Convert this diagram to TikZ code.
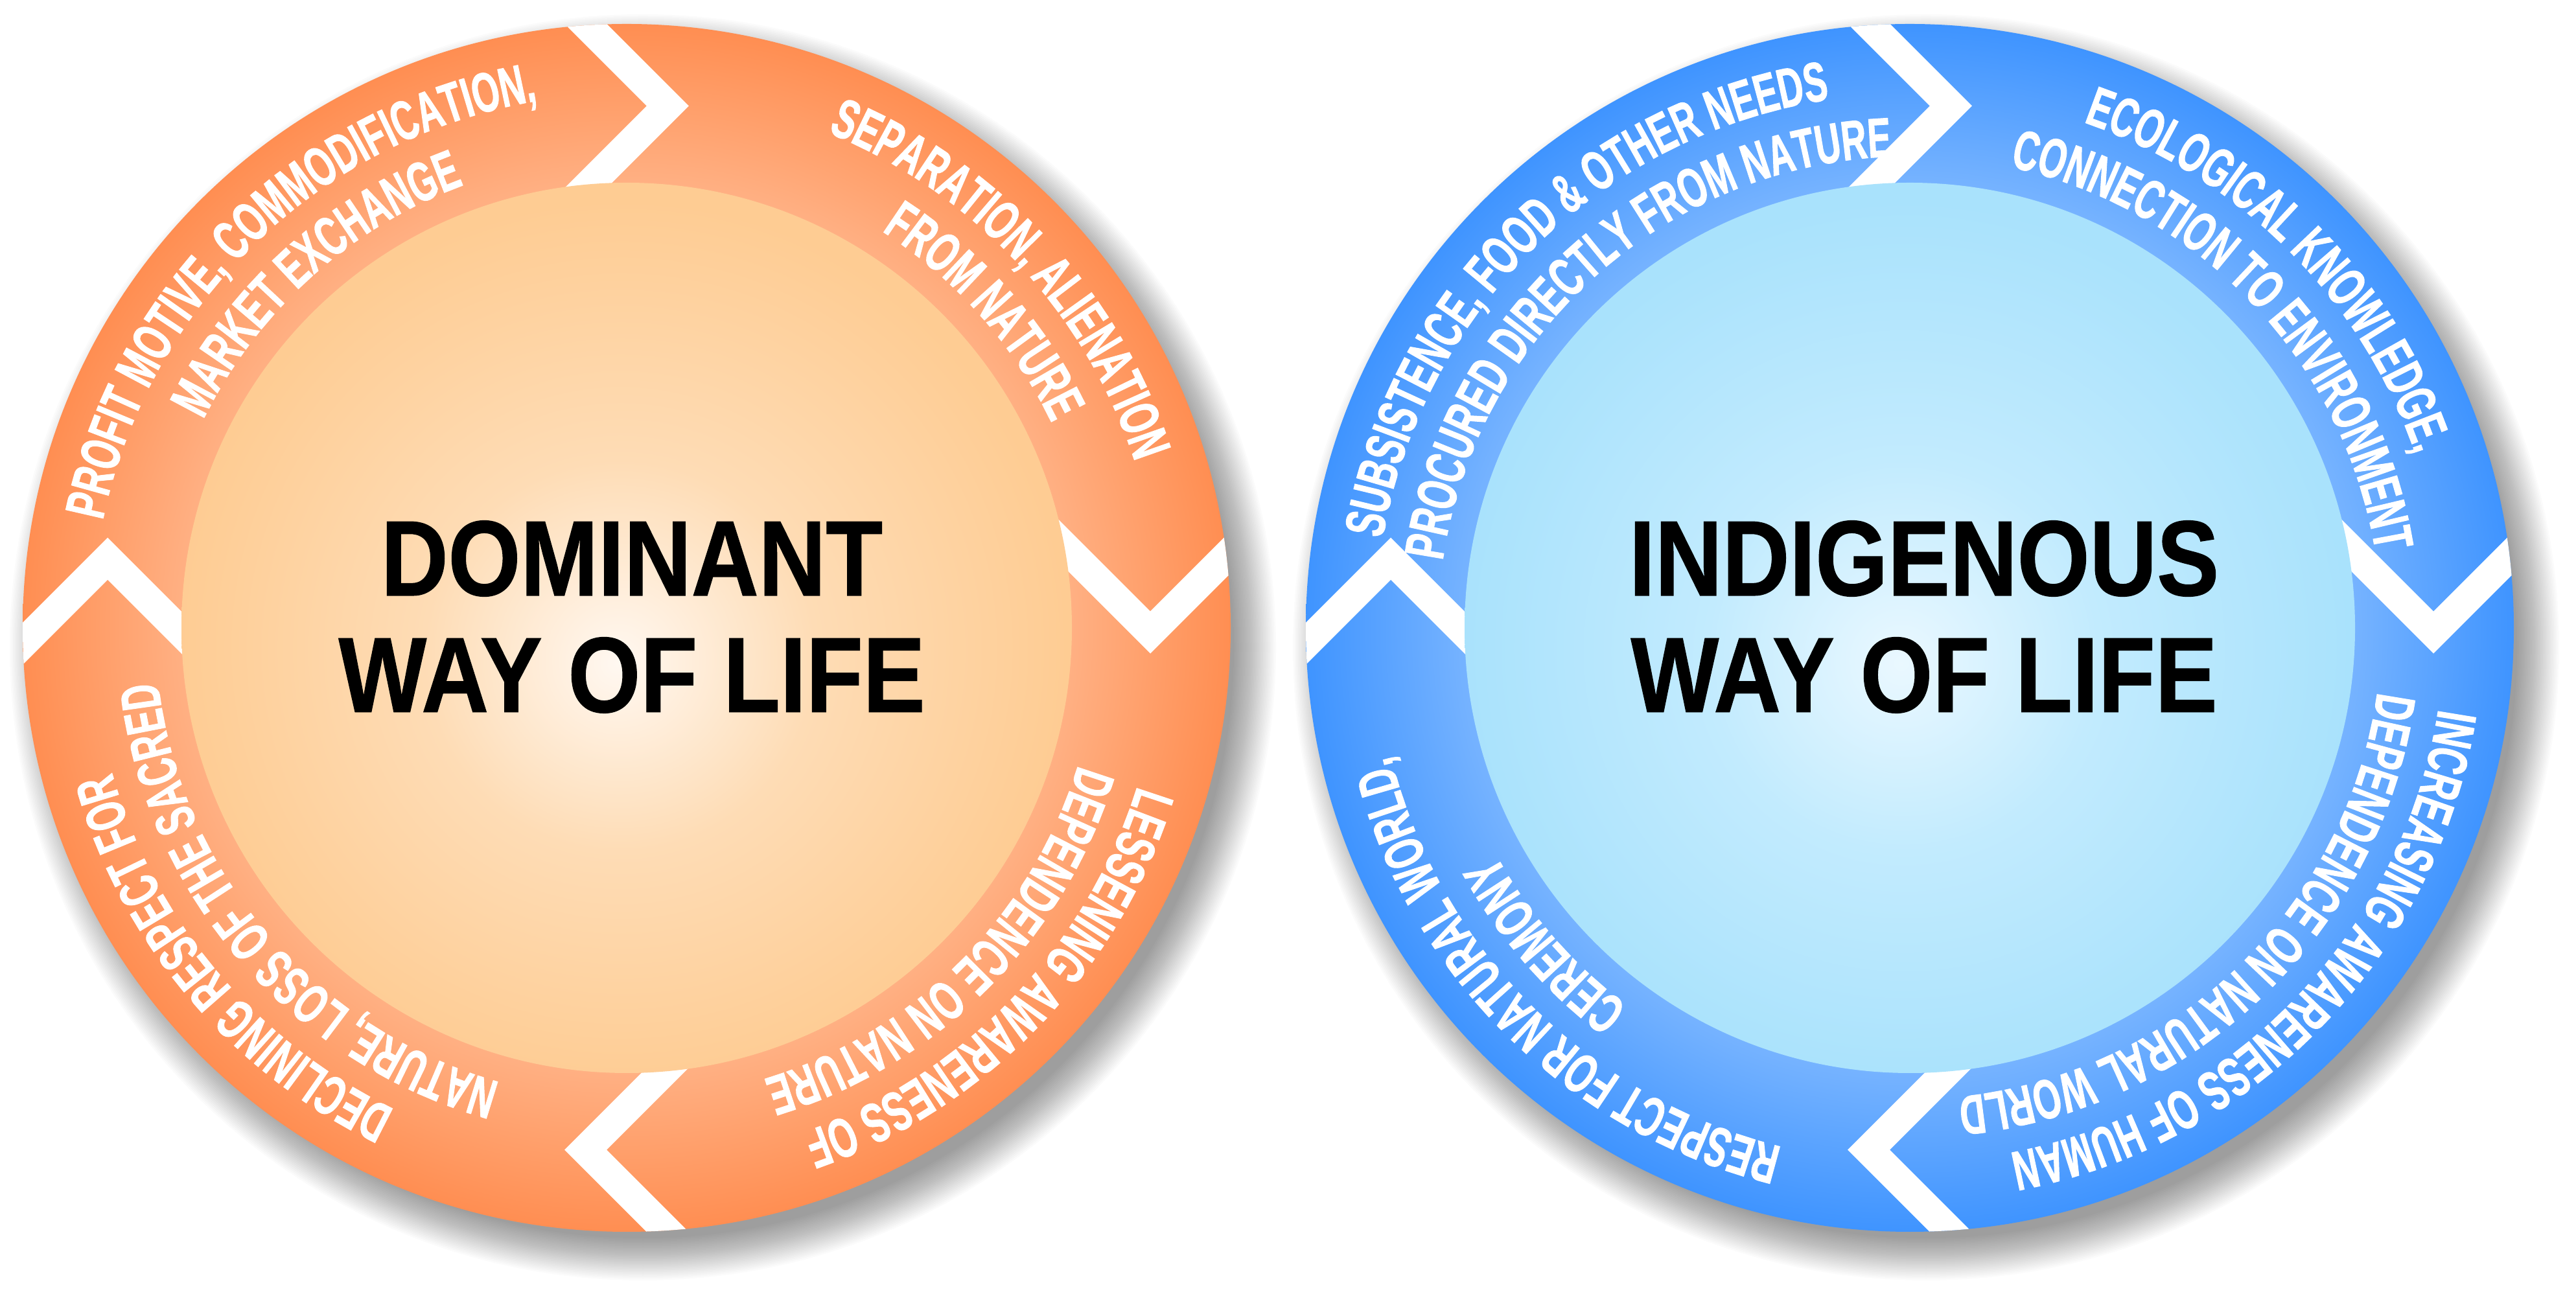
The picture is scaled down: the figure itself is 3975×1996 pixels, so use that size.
\documentclass[tikz,border=0pt]{standalone}
\usepackage{fontspec}
\usepackage{tikz}
\usetikzlibrary{calc,decorations.text}
\newfontfamily\ringfam[FakeStretch=0.63,FakeBold=1.2]{Liberation Sans}
\newfontfamily\headfam[FakeStretch=0.87,FakeBold=0.8]{Liberation Sans}
\newcommand\ringfont{\ringfam\bfseries\fontsize{24.5}{28}\selectfont}
\definecolor{orangeout}{HTML}{FF8E52}
\definecolor{orangein}{HTML}{FFB083}
\definecolor{peachedge}{HTML}{FECC93}
\definecolor{peachmid}{HTML}{FEDCB5}
\definecolor{peachcore}{HTML}{FFF8F1}
\definecolor{blueout}{HTML}{3F94FF}
\definecolor{bluein}{HTML}{76B3FF}
\definecolor{skyedge}{HTML}{A9E2FC}
\definecolor{skymid}{HTML}{C2EBFE}
\definecolor{skycore}{HTML}{EAF8FF}
% the path's box is mapped to radius 25bp of a radial shading
\pgfdeclareradialshading{orangering}{\pgfpoint{0bp}{0bp}}{color(0bp)=(orangein); color(18.4bp)=(orangein); color(25bp)=(orangeout); color(50bp)=(orangeout)}
\pgfdeclareradialshading{bluering}{\pgfpoint{0bp}{0bp}}{color(0bp)=(bluein); color(18.4bp)=(bluein); color(25bp)=(blueout); color(50bp)=(blueout)}
\pgfdeclareradialshading{orangedisk}{\pgfpoint{-0.5bp}{-2bp}}{color(0bp)=(peachcore); color(11bp)=(peachmid); color(25bp)=(peachedge); color(50bp)=(peachedge)}
\pgfdeclareradialshading{bluedisk}{\pgfpoint{-0.5bp}{-2bp}}{color(0bp)=(skycore); color(11bp)=(skymid); color(25bp)=(skyedge); color(50bp)=(skyedge)}
\tikzset{
  ringtext/.style={decorate, decoration={text along path, text align=center, text color=white, text={|\ringfont|#1}}},
  chev/.style={draw=white, line width=4.6mm, line join=miter},
  centertext/.style={font=\headfam\bfseries\fontsize{47}{51.2}\selectfont, align=center, text=black}
}
% one line of text on a ring: centre, clockwise angle from top, radius, text
\newcommand\ringline[4]{\path[ringtext={#4}] (#1) ++({150-#2}:#3) arc[start angle={150-#2}, end angle={30-#2}, radius=#3];}

\begin{document}
\begin{tikzpicture}[x=0.1mm,y=0.1mm]
\useasboundingbox (0,0) rectangle (3975,1996);
\fill[white] (0,0) rectangle (3975,1996);
\coordinate (lc) at (967,1027);
\coordinate (rc) at (2947,1027);

\foreach \c/\rs/\ds in {lc/orangering/orangedisk, rc/bluering/bluedisk}{
  \foreach \k in {0,...,26}
    \fill[black, opacity=0.017] (\c) ++(25,-30) circle ({912+2.5*\k});
  \shade[shading=\rs] (\c) circle (932);
  \begin{scope}
    \clip (\c) circle (932);
    \draw[chev] (\c) ++(-186.6,1055.5) -- ++(250,-250) -- ++(-250,-250);
    \draw[chev] (\c) ++(558,243) -- ++(250,-250) -- ++(250,250);
    \draw[chev] (\c) ++(186.6,-555.5) -- ++(-250,-250) -- ++(250,-250);
    \draw[chev] (\c) ++(-1050.9,-143.2) -- ++(250,250) -- ++(250,-250);
  \end{scope}
  \shade[shading=\ds] (\c) circle (687);
}

\ringline{lc}{316}{825}{PROFIT MOTIVE, COMMODIFICATION,}
\ringline{lc}{318}{728}{MARKET EXCHANGE}
\ringline{lc}{47}{825}{SEPARATION, ALIENATION}
\ringline{lc}{48.5}{728}{FROM NATURE}
\ringline{lc}{134}{825}{LESSENING AWARENESS OF}
\ringline{lc}{135}{728}{DEPENDENCE ON NATURE}
\ringline{lc}{230}{825}{DECLINING RESPECT FOR}
\ringline{lc}{229.5}{728}{NATURE, LOSS OF THE SACRED}

\ringline{rc}{315.5}{825}{SUBSISTENCE, FOOD {\&} OTHER NEEDS}
\ringline{rc}{318}{728}{PROCURED DIRECTLY FROM NATURE}
\ringline{rc}{45}{825}{ECOLOGICAL KNOWLEDGE,}
\ringline{rc}{46.5}{728}{CONNECTION TO ENVIRONMENT}
\ringline{rc}{134}{825}{INCREASING AWARENESS OF HUMAN}
\ringline{rc}{136}{728}{DEPENDENCE ON NATURAL WORLD}
\ringline{rc}{225}{825}{RESPECT FOR NATURAL WORLD,}
\ringline{rc}{229}{728}{CEREMONY}

\node[centertext] (dominant) at (975,1044) {DOMINANT\\WAY OF LIFE};
\node[centertext] (indigenous) at (2969,1044) {INDIGENOUS\\WAY OF LIFE};
\end{tikzpicture}
\end{document}
